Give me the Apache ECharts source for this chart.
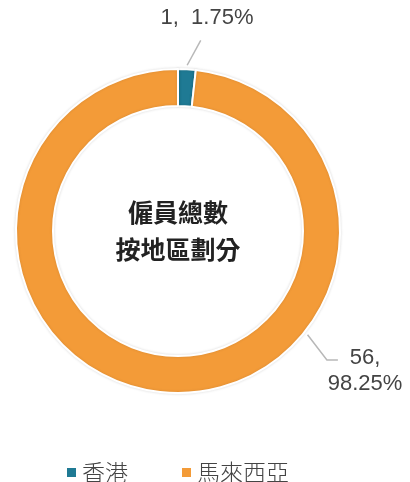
<!DOCTYPE html>
<html>
<head>
<meta charset="utf-8">
<script src="https://cdn.jsdelivr.net/npm/echarts@6/dist/echarts.min.js"></script>
<style>
  html, body { margin: 0; padding: 0; background: #fff; }
  #chart { width: 410px; height: 482px; }
</style>
</head>
<body>
<div id="chart"></div>
<script>
const regions = ["香港", "馬來西亞"];
const headcount = [1, 56];
const regionColors = ["#1f7a94", "#f39b38"];
const centerTitle = "僱員總數\n按地區劃分";

// pie geometry (px)
const CX = 178, CY = 231, R_IN = 125, R_OUT = 162;

const polar = (r, deg) => {
  const a = (deg * Math.PI) / 180;
  return [CX + r * Math.cos(a), CY - r * Math.sin(a)];
};

const total = headcount.reduce((a, b) => a + b, 0);
const midAngle0 = 90 - (180 * headcount[0]) / total;

const ch = echarts.init(document.getElementById("chart"));

ch.setOption({
  backgroundColor: "#fff",
  animation: false,
  color: regionColors,
  legend: {
    data: regions,
    left: 60,
    top: 456,
    icon: "rect",
    itemWidth: 11,
    itemHeight: 11,
    itemGap: 52,
    textStyle: {
      fontFamily: "Noto Sans CJK TC",
      fontWeight: 300,
      fontSize: 23,
      color: "#444",
    },
  },
  graphic: [
    {
      type: "text",
      x: CX,
      y: CY,
      style: {
        text: centerTitle,
        align: "center",
        verticalAlign: "middle",
        fontFamily: "Noto Sans CJK TC",
        fontWeight: "bold",
        fontSize: 25,
        lineHeight: 37,
        fill: "#222",
      },
    },
  ],
  series: [
    {
      type: "pie",
      center: [CX, CY],
      radius: [R_IN, R_OUT],
      startAngle: 90,
      clockwise: true,
      itemStyle: {
        borderColor: "#fff",
        borderWidth: 2,
        shadowBlur: 3,
        shadowColor: "rgba(0,0,0,0.12)",
      },
      label: {
        show: true,
        fontFamily: "Liberation Sans",
        fontSize: 22,
        lineHeight: 26,
        color: "#444",
        formatter: (p) =>
          p.dataIndex === 0 ? `${p.value},  ${p.percent}%` : `${p.value},\n${p.percent}%`,
      },
      labelLine: {
        show: true,
        lineStyle: { color: "#b8b8b8", width: 1.5 },
      },
      labelLayout: (params) => {
        if (params.dataIndex === 0) {
          const p0 = polar(R_OUT + 4, midAngle0);
          const p1 = polar(R_OUT + 30, 83.2);
          return {
            x: CX + 29,
            y: 18,
            align: "center",
            verticalAlign: "middle",
            labelLinePoints: [p0, p1, p1],
          };
        }
        const p0 = polar(R_OUT + 4, -38.7);
        const p1 = polar(R_OUT + 35, -40.9);
        const p2 = [p1[0] + 11, p1[1]];
        return {
          x: 365,
          y: 371,
          align: "center",
          verticalAlign: "middle",
          labelLinePoints: [p0, p1, p2],
        };
      },
      data: regions.map((name, i) => ({ name, value: headcount[i] })),
    },
  ],
});
</script>
</body>
</html>
